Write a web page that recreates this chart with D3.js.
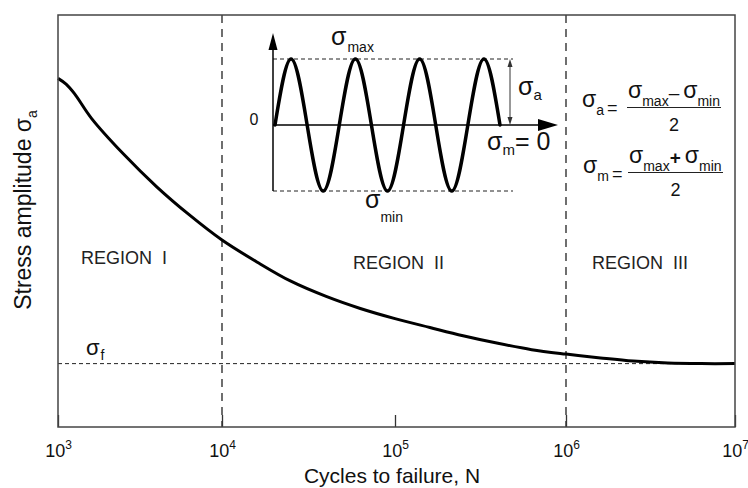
<!DOCTYPE html>
<html>
<head>
<meta charset="utf-8">
<script src="https://cdn.jsdelivr.net/npm/d3@7"></script>
<style>
  html, body { margin: 0; padding: 0; background: #fff; }
  svg { display: block; font-family: "Liberation Sans", Arial, Helvetica, sans-serif; }
</style>
</head>
<body>
<svg id="chart" width="748" height="488"></svg>
<script>
// ---- S-N (Wöhler) curve: stress amplitude vs. cycles to failure ----
const cycles = [1000, 1120, 1260, 1600, 2500, 4000, 6300, 10000, 16000, 25000, 40000, 63000,
                100000, 160000, 250000, 400000, 630000, 1000000, 1600000, 2500000,
                4000000, 6300000, 10000000];
const stressAmplitude = [550, 541, 526, 487, 431, 379, 335, 295, 260, 230, 206, 187,
                         171, 157, 144, 132, 122, 115, 109, 104, 101, 100, 100];
const enduranceLimit = 100;           // sigma_f
const decadeTicks = [1e3, 1e4, 1e5, 1e6, 1e7];
const regionBounds = [1e4, 1e6];
const regionNames = ["REGION  I", "REGION  II", "REGION  III"];

// ---- fully reversed loading cycle (sigma_m = 0), quarter-cycle key points ----
const loadPhase = [0, 0.25, 0.5, 0.75, 1, 1.25, 1.5, 1.75, 2, 2.25, 2.5, 2.75, 3, 3.25, 3.5];
const loadLevel = [0, 1, 0, -1, 0, 1, 0, -1, 0, 1, 0, -1, 0, 1, 0];

// ---- layout ----
const plot = { left: 58, right: 735, top: 15, bottom: 427 };
const decadePx = [58, 222, 395, 566, 735];
const ink = "#111";

const svg = d3.select("#chart");

const x = d3.scaleLog().domain(decadeTicks).range(decadePx);
const y = d3.scaleLinear().domain([0, 650]).range([plot.bottom, plot.top]);

// region boundaries (vertical dashed)
svg.append("g").selectAll("line").data(regionBounds).join("line")
  .attr("x1", d => x(d)).attr("x2", d => x(d))
  .attr("y1", plot.top).attr("y2", plot.bottom)
  .attr("stroke", "#222").attr("stroke-width", 1.3)
  .attr("stroke-dasharray", "8,6");

// endurance limit (horizontal dashed)
svg.append("line")
  .attr("x1", plot.left).attr("x2", plot.right)
  .attr("y1", y(enduranceLimit)).attr("y2", y(enduranceLimit))
  .attr("stroke", "#222").attr("stroke-width", 1)
  .attr("stroke-dasharray", "4,3");

// S-N curve
const snLine = d3.line()
  .x((d, i) => x(cycles[i]))
  .y(d => y(d))
  .curve(d3.curveCatmullRom.alpha(0.5));
svg.append("path").datum(stressAmplitude)
  .attr("d", snLine)
  .attr("fill", "none").attr("stroke", "#000").attr("stroke-width", 3);

// bottom axis: inward ticks + 10^n labels
const gx = svg.append("g")
  .attr("transform", `translate(0,${plot.bottom})`)
  .call(d3.axisBottom(x).tickValues(decadeTicks).tickSizeInner(-12).tickSizeOuter(0).tickFormat(""));
gx.attr("font-family", null).attr("font-size", null);
gx.select(".domain").remove();
gx.selectAll(".tick line").attr("stroke", "#333").attr("stroke-width", 1.3);
gx.selectAll(".tick text").each(function (d) {
  const t = d3.select(this);
  t.text(null).attr("y", 30).attr("dy", null)
    .attr("font-size", 18).attr("fill", ink).attr("text-anchor", "middle");
  t.append("tspan").text("10");
  t.append("tspan").attr("dy", -8).attr("font-size", 12).text(Math.round(Math.log10(d)));
});

// frame
svg.append("rect")
  .attr("x", plot.left).attr("y", plot.top)
  .attr("width", plot.right - plot.left).attr("height", plot.bottom - plot.top)
  .attr("fill", "none").attr("stroke", "#444").attr("stroke-width", 1.5);

// axis titles
svg.append("text")
  .attr("x", 392).attr("y", 483).attr("text-anchor", "middle")
  .attr("font-size", 21).attr("fill", ink)
  .text("Cycles to failure, N");

const yTitle = svg.append("text")
  .attr("transform", "translate(31,210) rotate(-90)")
  .attr("text-anchor", "middle").attr("font-size", 23).attr("fill", ink);
yTitle.append("tspan").text("Stress amplitude  σ");
yTitle.append("tspan").attr("font-size", 14).attr("dy", 6).text("a");

// region labels
const regionLabelPos = [[81, 264], [353, 269], [592, 269]];
svg.append("g").selectAll("text").data(regionNames).join("text")
  .attr("x", (d, i) => regionLabelPos[i][0])
  .attr("y", (d, i) => regionLabelPos[i][1])
  .attr("font-size", 18).attr("fill", "#222")
  .style("white-space", "pre")
  .text(d => d);

// sigma with subscript helper
function sigma(g, px, py, sub, opt = {}) {
  const size = opt.size || 24, subSize = opt.subSize || 14;
  const t = g.append("text").attr("x", px).attr("y", py).attr("fill", ink).attr("font-size", size);
  t.append("tspan").text("σ");
  t.append("tspan").attr("font-size", subSize).attr("dx", opt.subDx || 0).attr("dy", opt.subDy || 7).text(sub);
  return t;
}

// sigma_f label
sigma(svg, 86, y(enduranceLimit) - 9, "f", { size: 22, subSize: 14, subDx: 1, subDy: 5 });

// ---- inset: reversed load cycle ----
const inset = { axisX: 273, arrowTop: 33, arrowRight: 558, dashEnd: 513, ampX: 510 };
const ix = d3.scaleLinear().domain([0, 3.5]).range([275, 500]);
const iy = d3.scaleLinear().domain([-1, 1]).range([191, 59]);
const gi = svg.append("g");

// max / min dashed guides
gi.selectAll("line.guide").data([1, -1]).join("line")
  .attr("class", "guide")
  .attr("x1", inset.axisX).attr("x2", inset.dashEnd)
  .attr("y1", d => iy(d)).attr("y2", d => iy(d))
  .attr("stroke", "#222").attr("stroke-width", 1).attr("stroke-dasharray", "4,3");

// axes with arrowheads
gi.append("line")
  .attr("x1", inset.axisX).attr("x2", inset.axisX)
  .attr("y1", iy(-1)).attr("y2", inset.arrowTop + 10)
  .attr("stroke", "#000").attr("stroke-width", 1.5);
gi.append("path")
  .attr("d", `M${inset.axisX},${inset.arrowTop} L${inset.axisX - 4.5},${inset.arrowTop + 17} L${inset.axisX + 4.5},${inset.arrowTop + 17} Z`)
  .attr("fill", "#000");
gi.append("line")
  .attr("x1", inset.axisX).attr("x2", inset.arrowRight - 10)
  .attr("y1", iy(0)).attr("y2", iy(0))
  .attr("stroke", "#000").attr("stroke-width", 1.5);
gi.append("path")
  .attr("d", `M${inset.arrowRight},${iy(0)} L${inset.arrowRight - 20},${iy(0) - 6} L${inset.arrowRight - 20},${iy(0) + 6} Z`)
  .attr("fill", "#000");

// amplitude double arrow
gi.append("line")
  .attr("x1", inset.ampX).attr("x2", inset.ampX)
  .attr("y1", iy(1) + 4).attr("y2", iy(0) - 4)
  .attr("stroke", "#333").attr("stroke-width", 1);
gi.append("path")
  .attr("d", `M${inset.ampX},${iy(1)} l-2.5,8 l5,0 Z M${inset.ampX},${iy(0)} l-2.5,-8 l5,0 Z`)
  .attr("fill", "#333");

// load wave
const wave = d3.line()
  .x((d, i) => ix(loadPhase[i]))
  .y(d => iy(d))
  .curve(d3.curveNatural);
gi.append("path").datum(loadLevel)
  .attr("d", wave)
  .attr("fill", "none").attr("stroke", "#000").attr("stroke-width", 3.5)
  .attr("stroke-linecap", "round");

// inset labels
gi.append("text").attr("x", 254).attr("y", 125).attr("text-anchor", "middle")
  .attr("font-size", 16).attr("fill", ink).text("0");
sigma(gi, 331, 45, "max", { size: 25, subDx: 1, subDy: 7 });
sigma(gi, 365, 208, "min", { size: 25, subDx: 0, subDy: 14 });
sigma(gi, 518, 95, "a", { size: 25, subSize: 15, subDx: 0, subDy: 5 });
const sm = sigma(gi, 487, 150, "m", { size: 25, subSize: 15, subDx: 0, subDy: 5 });
sm.append("tspan").attr("dy", -5).attr("font-size", 25).text("= 0");

// ---- definitions of amplitude and mean stress ----
function fraction(g, spec) {
  const { lx, ly, sub, barX1, barX2, barY, op } = spec;
  // left-hand side
  const lhs = g.append("text").attr("x", lx).attr("y", ly).attr("fill", ink).attr("font-size", 23);
  lhs.append("tspan").text("σ");
  lhs.append("tspan").attr("font-size", 14).attr("dy", 8).text(sub);
  lhs.append("tspan").attr("font-size", 18).attr("dx", 3).attr("dy", -1).text("=");
  // bar
  g.append("line").attr("x1", barX1).attr("x2", barX2).attr("y1", barY).attr("y2", barY)
    .attr("stroke", "#222").attr("stroke-width", 1.2);
  // numerator
  const num = g.append("text").attr("x", barX1 + 1).attr("y", barY - 10).attr("fill", ink).attr("font-size", 23);
  num.append("tspan").text("σ");
  num.append("tspan").attr("font-size", 14).attr("dy", 8).text("max");
  num.append("tspan").attr("font-size", 19).attr("font-weight", op === "+" ? "bold" : null)
    .attr("dx", 0).attr("dy", -7).text(op === "+" ? "+" : "–");
  num.append("tspan").attr("dx", 4).attr("dy", -1).text("σ");
  num.append("tspan").attr("font-size", 14).attr("dy", 8).text("min");
  // denominator
  g.append("text").attr("x", (barX1 + barX2) / 2).attr("y", barY + 23).attr("text-anchor", "middle")
    .attr("fill", ink).attr("font-size", 18).text("2");
}
const gf = svg.append("g");
fraction(gf, { lx: 582, ly: 107, sub: "a", barX1: 627, barX2: 721, barY: 107.5, op: "-" });
fraction(gf, { lx: 583, ly: 173, sub: "m", barX1: 628, barX2: 723, barY: 172.5, op: "+" });
</script>
</body>
</html>
